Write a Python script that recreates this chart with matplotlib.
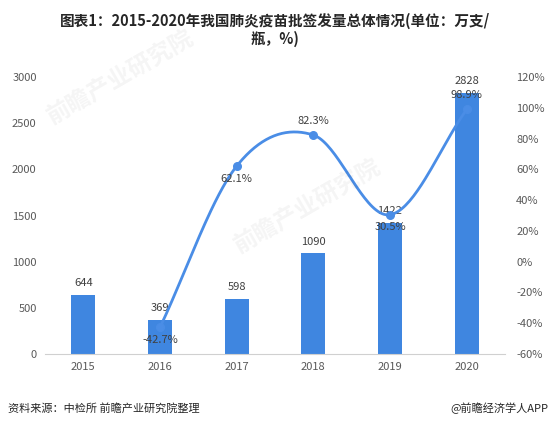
import numpy as np
import matplotlib
matplotlib.use("Agg")
import matplotlib.pyplot as plt
from matplotlib.ticker import FuncFormatter

plt.rcParams['font.family'] = ['Noto Sans CJK SC', 'DejaVu Sans']

years = ['2015', '2016', '2017', '2018', '2019', '2020']
volume = [644, 369, 598, 1090, 1422, 2828]
growth_years = ['2016', '2017', '2018', '2019', '2020']
growth = [-42.7, 62.1, 82.3, 30.5, 98.9]
growth_label_above = [False, False, True, False, True]

title = '图表1：2015-2020年我国肺炎疫苗批签发量总体情况(单位：万支/\n瓶，%)'
source = '资料来源：中检所 前瞻产业研究院整理'
credit = '@前瞻经济学人APP'

bar_color = '#3F86E0'
line_color = '#4A8DE6'
text_color = '#404040'
tick_color = '#595959'

fig = plt.figure(figsize=(5.5, 4.29), dpi=100)
ax = fig.add_axes([45/550, 1-354/429, 460/550, 277/429])
ax2 = ax.twinx()

x = np.arange(len(years))
ax.bar(x, volume, width=0.31, color=bar_color, zorder=2)
for xi, v in zip(x, volume):
    ax.text(xi, v + 70, str(v), ha='center', va='bottom', fontsize=8, color=text_color)

ax.set_xlim(-0.5, len(years) - 0.5)
ax.set_ylim(0, 3000)
ax.set_yticks(np.arange(0, 3001, 500))
ax.set_xticks(x)
ax.set_xticklabels(years)
ax2.set_ylim(-60, 120)
ax2.set_yticks(np.arange(-60, 121, 20))
ax2.yaxis.set_major_formatter(FuncFormatter(lambda v, p: f'{int(v)}%'))

for a in (ax, ax2):
    for s in a.spines.values():
        s.set_visible(False)
    a.tick_params(length=0, labelsize=8, colors=tick_color)
ax.spines['bottom'].set_visible(True)
ax.spines['bottom'].set_color('#D0D0D0')
ax.tick_params(axis='x', pad=6)
ax.tick_params(axis='y', pad=6)
ax2.tick_params(axis='y', pad=8)

# smooth curve (Catmull-Rom) through growth points
gx = np.array([years.index(y) for y in growth_years], dtype=float)
gy = np.array(growth, dtype=float)
P = np.column_stack([gx, gy])
Pext = np.vstack([2*P[0]-P[1], P, 2*P[-1]-P[-2]])
cx, cy = [], []
for i in range(1, len(Pext)-2):
    p0, p1, p2, p3 = Pext[i-1], Pext[i], Pext[i+1], Pext[i+2]
    t = np.linspace(0, 1, 40)[:, None]
    pts = 0.5*((2*p1) + (-p0+p2)*t + (2*p0-5*p1+4*p2-p3)*t**2 + (-p0+3*p1-3*p2+p3)*t**3)
    cx.extend(pts[:, 0]); cy.extend(pts[:, 1])
ax2.plot(cx, cy, color=line_color, lw=2, zorder=3)
ax2.scatter(gx, gy, s=30, color=line_color, zorder=4)
for xi, v, up in zip(gx, gy, growth_label_above):
    ax2.text(xi, v + (6 if up else -5), f'{v:.1f}%', ha='center',
             va='bottom' if up else 'top', fontsize=8, color=text_color, zorder=5)
ax2.set_zorder(ax.get_zorder() + 1)
ax2.patch.set_visible(False)

# watermarks
for (wx, wy) in [(0.22, 0.82), (0.56, 0.52)]:
    fig.text(wx, wy, '前瞻产业研究院', fontsize=17, fontweight='bold', color='#000000',
             alpha=0.045, rotation=30, ha='center', va='center')

fig.text(0.5, 1-30/429, title, ha='center', va='center', fontsize=10.5,
         fontweight='bold', color='#262626', linespacing=1.15)
fig.text(8/550, 1-408/429, source, ha='left', va='center', fontsize=8, color='#262626')
fig.text(548/550, 1-408/429, credit, ha='right', va='center', fontsize=8, color='#262626')

fig.savefig('out.png', dpi=100, facecolor='white')
